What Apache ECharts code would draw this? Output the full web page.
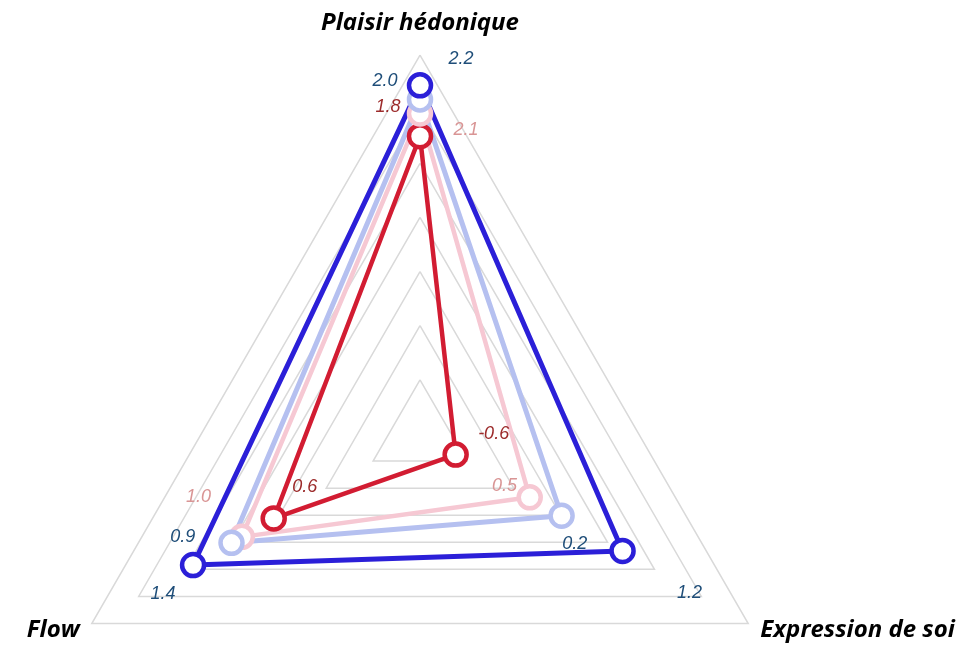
<!DOCTYPE html>
<html>
<head>
<meta charset="utf-8">
<script src="https://cdn.jsdelivr.net/npm/echarts@6/dist/echarts.min.js"></script>
<style>
  html, body { margin: 0; padding: 0; background: #fff; }
  #chart { width: 977px; height: 645px; }
</style>
</head>
<body>
<div id="chart"></div>
<script>
// axes of the radar, top then counter-clockwise
const dimensions = ['Plaisir hédonique', 'Flow', 'Expression de soi']
const axisMin = -1
const axisMax = 2.5

// one array per profile, same order as dimensions
const redValues = [1.75, 0.56, -0.62]
const pinkValues = [1.96, 0.9, 0.17]
const lightBlueValues = [2.09, 1.01, 0.51]
const darkBlueValues = [2.22, 1.42, 1.16]

// drawing order: red first, dark blue on top
const seriesValues = [redValues, pinkValues, lightBlueValues, darkBlueValues]
const lineColors = ['#d21c32', '#f6c8d3', '#b5c0f0', '#2b1fd8']
const lineWidths = [4.5, 4.5, 5, 5]
const labelColors = ['#9c2b2b', '#1f4e79', '#d99595', '#1f4e79']

// label offset from its point, [dx, dy] per axis
const labelOffsets = [
  [[-32, -29], [31, -31], [38, -21]],
  [[-35, -32], [-59, 0], [45, 47]],
  [[46, 31], [-33, -46], [-57, -30]],
  [[41, -26], [-30, 29], [67, 42]]
]

const labelFont = { fontSize: 18, fontStyle: 'italic', fontFamily: 'Liberation Sans' }
const nameFont = { color: '#000', fontSize: 24, fontWeight: 'bold', fontStyle: 'italic', fontFamily: 'Open Sans' }

function makeLabel(s) {
  const rich = {}
  labelOffsets[s].forEach(function (off, i) {
    const dx = off[0], dy = off[1]
    rich['p' + i] = Object.assign({
      color: labelColors[s],
      padding: [Math.max(0, 2 * dy), Math.max(0, -2 * dx), Math.max(0, -2 * dy), Math.max(0, 2 * dx)]
    }, labelFont)
  })
  return Object.assign({
    show: true,
    position: 'inside',
    color: labelColors[s],
    formatter: function (p) {
      const i = seriesValues[p.seriesIndex].indexOf(p.value)
      if (i < 0) return ''
      return '{p' + i + '|' + p.value.toFixed(1) + '}'
    },
    rich: rich
  }, labelFont)
}

const chart = echarts.init(document.getElementById('chart'))

const series = seriesValues.map(function (vals, s) {
  return {
    type: 'radar',
    symbol: 'circle',
    symbolSize: 22,
    itemStyle: { color: '#fff', borderColor: lineColors[s], borderWidth: 4.5 },
    lineStyle: { color: lineColors[s], width: lineWidths[s] },
    label: makeLabel(s),
    emphasis: { disabled: true },
    data: [{ value: vals }]
  }
})

chart.setOption({
  animation: false,
  radar: {
    center: [420, 434],
    radius: 379,
    shape: 'polygon',
    splitNumber: 7,
    nameGap: 14,
    indicator: dimensions.map(function (d) { return { name: d, min: axisMin, max: axisMax } }),
    axisName: Object.assign({
      formatter: function (name) {
        return name === dimensions[0] ? '{top|' + name + '}' : '{side|' + name + '}'
      },
      rich: {
        top: Object.assign({ padding: [0, 0, 6, 0] }, nameFont),
        side: Object.assign({}, nameFont)
      }
    }, nameFont),
    axisLine: { show: false },
    axisTick: { show: false },
    axisLabel: { show: false },
    splitArea: { show: false },
    splitLine: { lineStyle: { color: '#d9d9d9', width: 1.5 } }
  },
  series: series
})
</script>
</body>
</html>
